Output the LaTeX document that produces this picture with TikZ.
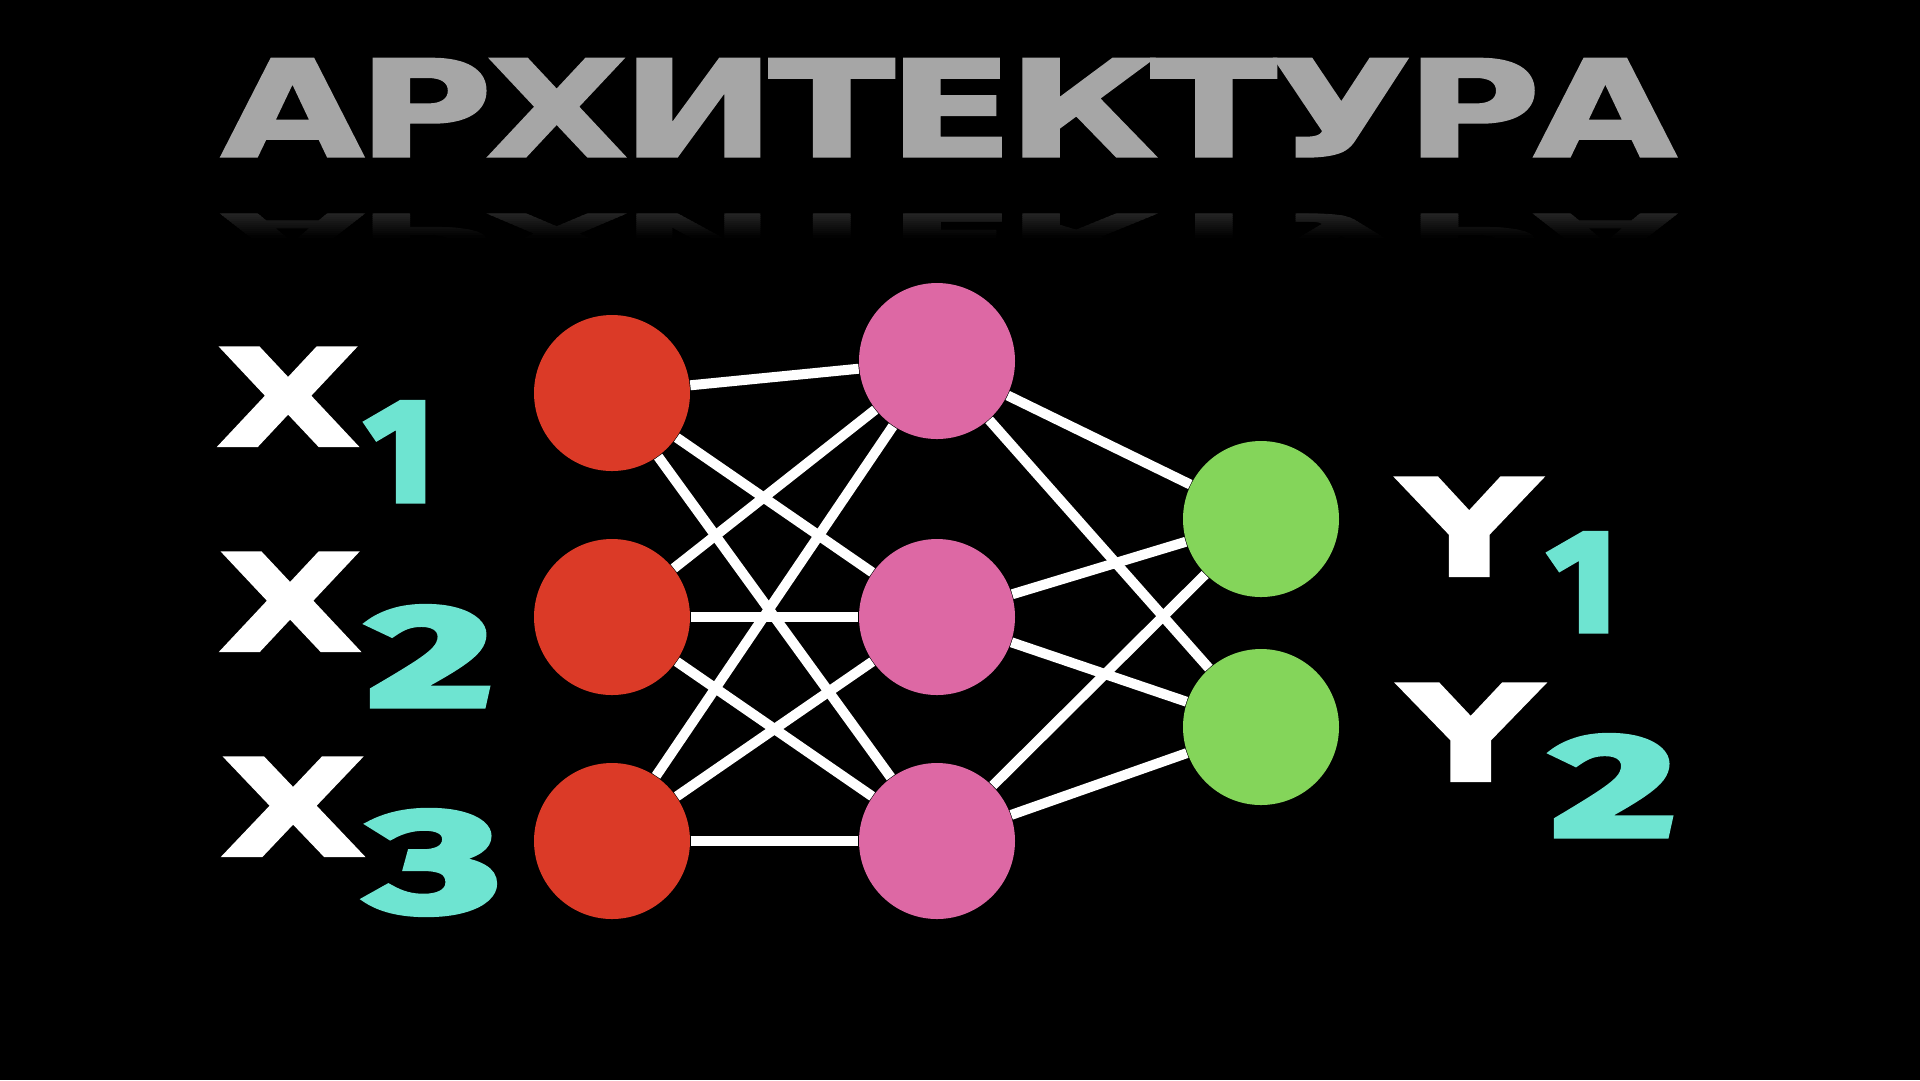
\documentclass[tikz,border=0pt]{standalone}
\usepackage{fontspec}
\usepackage{graphicx}
\newfontfamily\heavyfont{DejaVu Sans}[BoldFeatures={FakeBold=2}]
\newfontfamily\titlefont{DejaVu Sans}[LetterSpace=-4.0,BoldFeatures={FakeBold=1.5}]
\newfontfamily\digitfont{Fira Sans}[BoldFeatures={FakeBold=4}]
\definecolor{titlegray}{HTML}{A6A6A6}
\definecolor{inred}{HTML}{DB3A27}
\definecolor{hidpink}{HTML}{DD68A4}
\definecolor{outgreen}{HTML}{84D55A}
\definecolor{subteal}{HTML}{6EE4D1}
\newcommand\stretched[3]{\resizebox{#1}{#2}{#3}}

\begin{document}
\begin{tikzpicture}[x=0.1mm,y=-0.1mm,
  neuron/.style={circle,minimum size=15.6mm,inner sep=0pt},
  link/.style={white,line width=1mm},
  glyph/.style={anchor=north west,inner sep=0pt}]
\def\titlewd{14.56cm}
\fill[black] (0,0) rectangle (1920,1080);
              %title
\node[glyph,text=titlegray] (title) at (220,58)
  {\stretched{\titlewd}{0.98cm}{\titlefont\bfseries АРХИТЕКТУРА}};
              %reflection of the title
\foreach \i in {0,...,11}{
\pgfmathsetmacro\fade{14-1.2*\i}
\begin{scope}
\clip (0,213+2*\i) rectangle (1920,215+2*\i);
\node[glyph,text=white!\fade!black] at (220,213)
  {\scalebox{1}[-1]{\stretched{\titlewd}{0.39cm}{\titlefont\bfseries АРХИТЕКТУРА}}};
\end{scope}
}
              %neurons
\foreach \n/\y in {1/393,2/617,3/841}{
\node[neuron,fill=inred] (r\n) at (612,\y) {};
}
\foreach \n/\y in {1/361,2/617,3/841}{
\node[neuron,fill=hidpink] (p\n) at (937,\y) {};
}
\foreach \n/\y in {1/519,2/727}{
\node[neuron,fill=outgreen] (g\n) at (1261,\y) {};
}
              %connections
\foreach \a in {1,2,3}{
\foreach \b in {1,2,3}{
\draw [link] (r\a) -- (p\b);
}
}
\foreach \a in {1,2,3}{
\foreach \b in {1,2}{
\draw [link] (p\a) -- (g\b);
}
}
              %labels
\node[glyph,text=white] (x1) at (216,347) {\stretched{1.43cm}{0.98cm}{\heavyfont\bfseries X}};
\node[glyph,text=white] (x2) at (218,552) {\stretched{1.43cm}{0.98cm}{\heavyfont\bfseries X}};
\node[glyph,text=white] (x3) at (220,757) {\stretched{1.45cm}{0.98cm}{\heavyfont\bfseries X}};
\node[glyph,text=white] (y1) at (1398,477) {\stretched{1.41cm}{0.98cm}{\heavyfont\bfseries Y}};
\node[glyph,text=white] (y2) at (1399,683) {\stretched{1.42cm}{0.97cm}{\heavyfont\bfseries Y}};
\node[glyph,text=subteal] (xs1) at (364,402) {\stretched{0.70cm}{0.98cm}{\digitfont\bfseries 1}};
\node[glyph,text=subteal] (xs2) at (367,606) {\stretched{1.25cm}{0.99cm}{\digitfont\bfseries 2}};
\node[glyph,text=subteal] (xs3) at (367,810) {\stretched{1.33cm}{1.01cm}{\digitfont\bfseries 3}};
\node[glyph,text=subteal] (ys1) at (1547,533) {\stretched{0.70cm}{0.97cm}{\digitfont\bfseries 1}};
\node[glyph,text=subteal] (ys2) at (1551,735) {\stretched{1.24cm}{1.00cm}{\digitfont\bfseries 2}};
\end{tikzpicture}
\end{document}
